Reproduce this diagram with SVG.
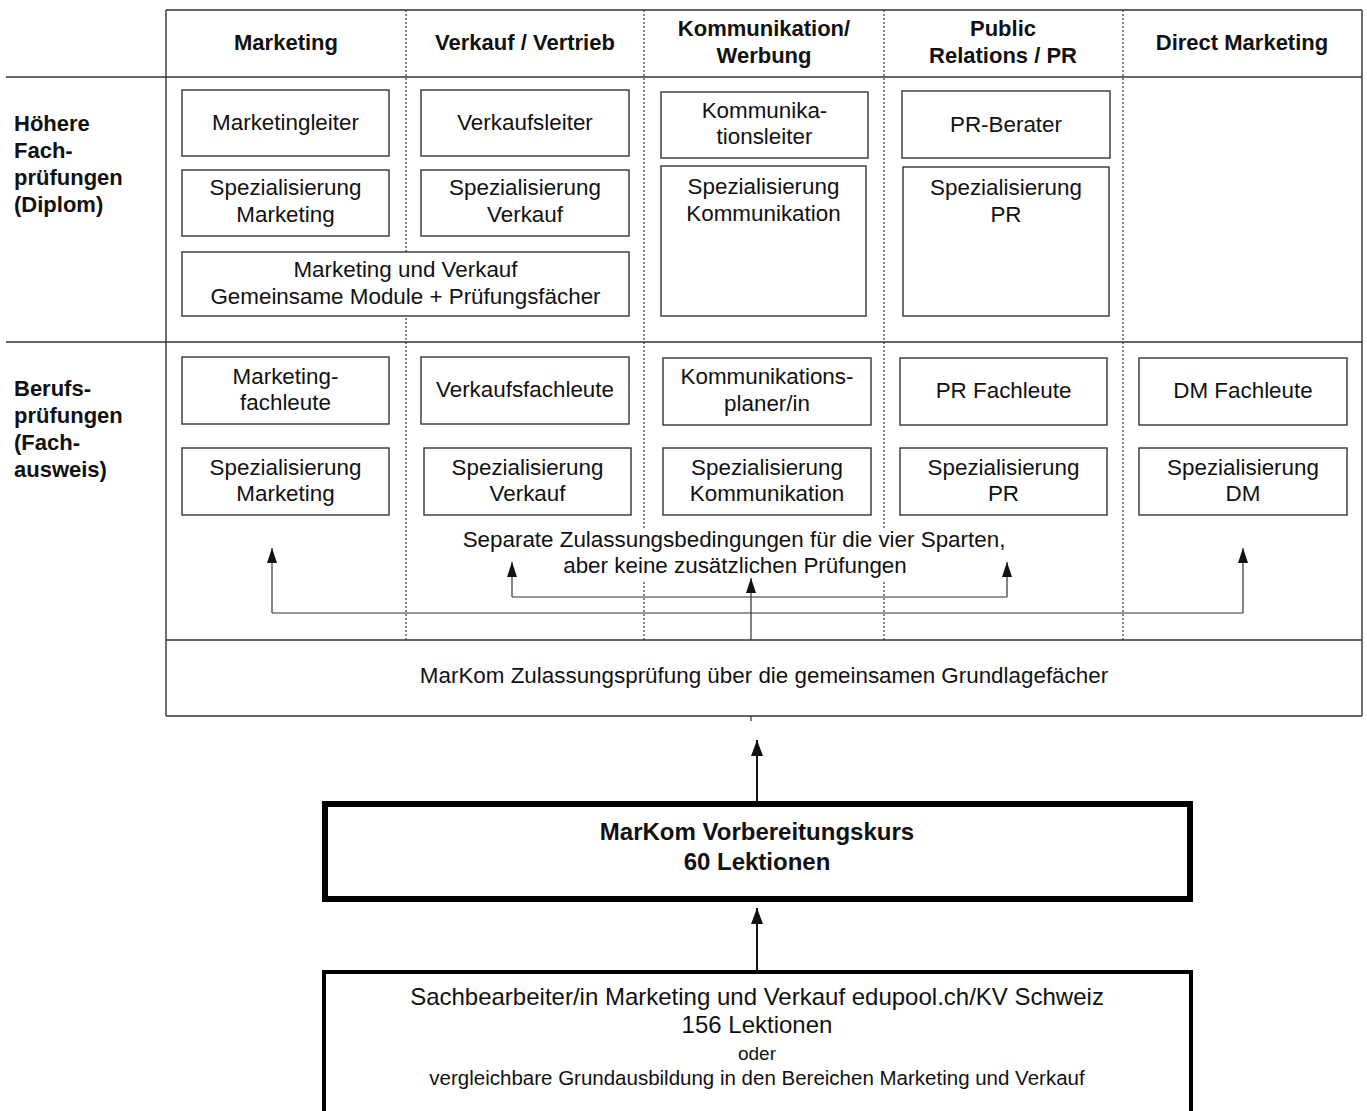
<svg xmlns="http://www.w3.org/2000/svg" width="1367" height="1111" viewBox="0 0 1367 1111">
<style>
text{font-family:"Liberation Sans",Arial,sans-serif;fill:#111;text-anchor:middle}
.h{font-size:22px;font-weight:bold}
.lab{font-size:22px;font-weight:bold;text-anchor:start}
.t{font-size:22.4px}
.box{fill:#fff;stroke:#333;stroke-width:1.4}
.grid{stroke:#333;stroke-width:1.4;fill:none}
.dash{stroke:#333;stroke-width:1.2;stroke-dasharray:2 2;fill:none}
.con{stroke:#333;stroke-width:1.2;fill:none}
.con2{stroke:#111;stroke-width:2;fill:none}
</style>
<defs>
<marker id="ah" viewBox="0 0 15 10" refX="15" refY="5" markerWidth="15" markerHeight="10" markerUnits="userSpaceOnUse" orient="auto">
<path d="M0,0 L15,5 L0,10 Z" fill="#111"/>
</marker>
<marker id="ah2" viewBox="0 0 16 12" refX="16" refY="6" markerWidth="16" markerHeight="12" markerUnits="userSpaceOnUse" orient="auto">
<path d="M0,0 L16,6 L0,12 Z" fill="#111"/>
</marker>
</defs>
<rect width="1367" height="1111" fill="#fff"/>

<g id="table">
<path class="dash" d="M406,10V640M644,10V640M884,10V640M1123,10V640"/>
<path class="grid" d="M166,10H1362M6,77H1362M6,342H1362M166,640H1362M166,716H1362M166,10V716M1362,10V716"/>
</g>

<g id="headers">
<text class="h" x="286" y="50">Marketing</text>
<text class="h" x="525" y="50">Verkauf / Vertrieb</text>
<text class="h" x="764" y="36">Kommunikation/</text>
<text class="h" x="764" y="63">Werbung</text>
<text class="h" x="1003" y="36">Public</text>
<text class="h" x="1003" y="63">Relations / PR</text>
<text class="h" x="1242" y="50">Direct Marketing</text>
</g>

<g id="row-labels">
<text class="lab" x="14" y="131">Höhere</text>
<text class="lab" x="14" y="158">Fach-</text>
<text class="lab" x="14" y="185">prüfungen</text>
<text class="lab" x="14" y="212">(Diplom)</text>
<text class="lab" x="14" y="396">Berufs-</text>
<text class="lab" x="14" y="423">prüfungen</text>
<text class="lab" x="14" y="450">(Fach-</text>
<text class="lab" x="14" y="477">ausweis)</text>
</g>

<g id="n-marketingleiter"><rect class="box" x="182" y="90" width="207" height="66"/><text class="t" x="285.5" y="130">Marketingleiter</text></g>
<g id="n-spez-marketing-hf"><rect class="box" x="182" y="170" width="207" height="66"/><text class="t" x="285.5" y="195">Spezialisierung</text><text class="t" x="285.5" y="222">Marketing</text></g>
<g id="n-mv-gemeinsam"><rect class="box" x="182" y="252" width="447" height="64"/><text class="t" x="405.5" y="277">Marketing und Verkauf</text><text class="t" x="405.5" y="304">Gemeinsame Module + Prüfungsfächer</text></g>
<g id="n-verkaufsleiter"><rect class="box" x="421" y="90" width="208" height="66"/><text class="t" x="525" y="130">Verkaufsleiter</text></g>
<g id="n-spez-verkauf-hf"><rect class="box" x="421" y="170" width="208" height="66"/><text class="t" x="525" y="195">Spezialisierung</text><text class="t" x="525" y="222">Verkauf</text></g>
<g id="n-kommleiter"><rect class="box" x="661" y="92" width="207" height="66"/><text class="t" x="764.5" y="118">Kommunika-</text><text class="t" x="764.5" y="144">tionsleiter</text></g>
<g id="n-spez-komm-hf"><rect class="box" x="661" y="166" width="205" height="150"/><text class="t" x="763.5" y="194">Spezialisierung</text><text class="t" x="763.5" y="221">Kommunikation</text></g>
<g id="n-prberater"><rect class="box" x="902" y="91" width="208" height="67"/><text class="t" x="1006" y="132">PR-Berater</text></g>
<g id="n-spez-pr-hf"><rect class="box" x="903" y="167" width="206" height="149"/><text class="t" x="1006" y="195">Spezialisierung</text><text class="t" x="1006" y="222">PR</text></g>

<g id="n-mfachleute"><rect class="box" x="182" y="357" width="207" height="67"/><text class="t" x="285.5" y="384">Marketing-</text><text class="t" x="285.5" y="410">fachleute</text></g>
<g id="n-spez-marketing-bp"><rect class="box" x="182" y="448" width="207" height="67"/><text class="t" x="285.5" y="475">Spezialisierung</text><text class="t" x="285.5" y="501">Marketing</text></g>
<g id="n-vfachleute"><rect class="box" x="421" y="357" width="208" height="67"/><text class="t" x="525" y="397">Verkaufsfachleute</text></g>
<g id="n-spez-verkauf-bp"><rect class="box" x="424" y="448" width="207" height="67"/><text class="t" x="527.5" y="475">Spezialisierung</text><text class="t" x="527.5" y="501">Verkauf</text></g>
<g id="n-kplaner"><rect class="box" x="663" y="358" width="208" height="67"/><text class="t" x="767" y="384">Kommunikations-</text><text class="t" x="767" y="411">planer/in</text></g>
<g id="n-spez-komm-bp"><rect class="box" x="663" y="448" width="208" height="67"/><text class="t" x="767" y="475">Spezialisierung</text><text class="t" x="767" y="501">Kommunikation</text></g>
<g id="n-prfachleute"><rect class="box" x="900" y="358" width="207" height="67"/><text class="t" x="1003.5" y="398">PR Fachleute</text></g>
<g id="n-spez-pr-bp"><rect class="box" x="900" y="448" width="207" height="67"/><text class="t" x="1003.5" y="475">Spezialisierung</text><text class="t" x="1003.5" y="501">PR</text></g>
<g id="n-dmfachleute"><rect class="box" x="1139" y="358" width="208" height="67"/><text class="t" x="1243" y="398">DM Fachleute</text></g>
<g id="n-spez-dm-bp"><rect class="box" x="1139" y="448" width="208" height="67"/><text class="t" x="1243" y="475">Spezialisierung</text><text class="t" x="1243" y="501">DM</text></g>

<g id="n-separate">
<rect x="455" y="528" width="558" height="52" fill="#fff"/>
<text class="t" x="734" y="547">Separate Zulassungsbedingungen für die vier Sparten,</text>
<text class="t" x="735" y="573">aber keine zusätzlichen Prüfungen</text>
</g>

<g id="n-zulassung"><text class="t" x="764" y="683">MarKom Zulassungsprüfung über die gemeinsamen Grundlagefächer</text></g>

<g id="n-vorbereitung">
<rect x="325" y="804" width="865" height="95" fill="#fff" stroke="#000" stroke-width="6"/>
<text class="h" style="font-size:24px" x="757" y="840">MarKom Vorbereitungskurs</text>
<text class="h" style="font-size:24px" x="757" y="870">60 Lektionen</text>
</g>

<g id="n-sachbearbeiter">
<rect x="324" y="972" width="867" height="160" fill="#fff" stroke="#000" stroke-width="4"/>
<text class="t" style="font-size:24px" x="757" y="1005">Sachbearbeiter/in Marketing und Verkauf edupool.ch/KV Schweiz</text>
<text class="t" style="font-size:24px" x="757" y="1033">156 Lektionen</text>
<text class="t" style="font-size:19px" x="757" y="1060">oder</text>
<text class="t" style="font-size:20.5px" x="757" y="1085">vergleichbare Grundausbildung in den Bereichen Marketing und Verkauf</text>
</g>

<g id="connectors">
<path class="con" d="M751,640V578" marker-end="url(#ah)"/>
<path class="con" d="M512,597H1007"/>
<path class="con" d="M512,597V562" marker-end="url(#ah)"/>
<path class="con" d="M1007,597V562" marker-end="url(#ah)"/>
<path class="con" d="M272,613H1243"/>
<path class="con" d="M272,613V548" marker-end="url(#ah)"/>
<path class="con" d="M1243,613V548" marker-end="url(#ah)"/>
<path class="con" d="M751,716V721"/>
<path class="con2" d="M757,801V740" marker-end="url(#ah2)"/>
<path class="con2" d="M757,970V908" marker-end="url(#ah2)"/>
</g>
</svg>
